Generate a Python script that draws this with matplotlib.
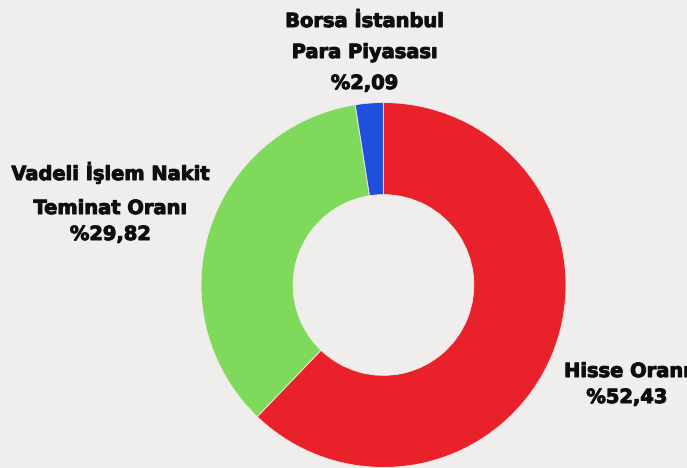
import matplotlib
matplotlib.use("Agg")
import matplotlib.pyplot as plt
import matplotlib.patheffects as pe

label_lines = [["Hisse Oranı"], ["Vadeli İşlem Nakit", "Teminat Oranı"], ["Borsa İstanbul", "Para Piyasası"]]
values = [52.43, 29.82, 2.09]
value_labels = ["%52,43", "%29,82", "%2,09"]
colors = ["#e8212a", "#7fd95a", "#1f4fdc"]
bg = "#f0eeec"

W, H = 687, 468
fig = plt.figure(figsize=(W / 100, H / 100), dpi=100, facecolor=bg)
ax = fig.add_axes([0, 0, 1, 1])
ax.set_facecolor(bg)

cx, cy, r = 383.5, H - 285, 182.5
ax.pie(values, colors=colors, startangle=90, counterclock=False,
       center=(cx, cy), radius=r, frame=False,
       wedgeprops=dict(width=r * 0.505, edgecolor=bg, linewidth=0.6))
ax.set_xlim(0, W)
ax.set_ylim(0, H)
ax.set_aspect("equal")
ax.axis("off")

font = dict(family=["DejaVu Sans"], fontweight="bold", fontsize=14.0,
            color="#0e0e0e", ha="center", va="baseline",
            path_effects=[pe.withStroke(linewidth=0.7, foreground="#0e0e0e")])

# (x centre, baselines in pixel rows from top)
layout = [(627, [377, 403]), (110.5, [180, 214, 240]), (364.5, [27, 58, 89])]
for lines, vl, (x, baselines) in zip(label_lines, value_labels, layout):
    for txt, b in zip(lines + [vl], baselines):
        ax.text(x, H - b, txt, **font)

fig.savefig("out.png", dpi=100, facecolor=bg)
